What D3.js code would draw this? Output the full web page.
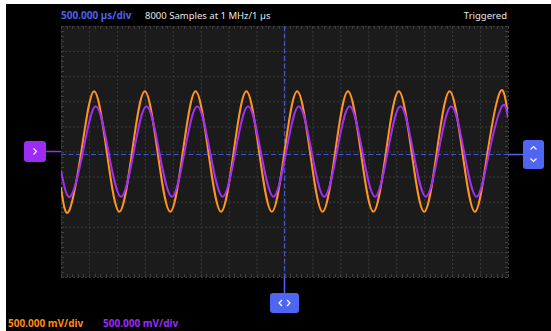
<!DOCTYPE html>
<html>
<head>
<meta charset="utf-8">
<script src="https://cdn.jsdelivr.net/npm/d3@7/dist/d3.min.js"></script>
<style>
  body { margin: 0; background: #fff; }
  svg { display: block; font-family: "Noto Sans", "DejaVu Sans", sans-serif; }
</style>
</head>
<body>
<svg width="551" height="331"></svg>
<script>
// time base: 16 divisions of 500 us, volts: 10 divisions of 500 mV
var timeDomain = [-4000, 4000];
var voltDomain = [-2.5, 2.5];
var timeTicks = d3.range(-4000, 4001, 500);
var voltTicks = d3.range(-2.5, 2.51, 0.5);

// channel 1 (orange), read at peaks / zero crossings, time in us
var ch1Time = [-4000, -3864, -3636, -3409, -3182, -2955, -2727, -2500, -2273, -2045, -1818, -1591,
    -1364, -1136, -909, -682, -455, -227, 0, 227, 455, 682, 909, 1136, 1364, 1591, 1818, 2045,
    2273, 2500, 2727, 2955, 3182, 3409, 3636, 3864, 4000];
var ch1Volts = [-0.71, -1.2, 0, 1.2, 0, -1.2, 0, 1.2, 0, -1.2, 0, 1.2,
    0, -1.2, 0, 1.2, 0, -1.2, 0, 1.2, 0, -1.2, 0, 1.2, 0, -1.2, 0, 1.2,
    0, -1.2, 0, 1.2, 0, -1.2, 0, 1.2, 0.71];

// channel 2 (purple), slightly lagging
var ch2Time = [-4000, -3834, -3606, -3379, -3152, -2925, -2697, -2470, -2243, -2015, -1788, -1561,
    -1334, -1106, -879, -652, -425, -197, 30, 257, 485, 712, 939, 1166, 1394, 1621, 1848, 2075,
    2303, 2530, 2757, 2985, 3212, 3439, 3666, 3894, 4000];
var ch2Volts = [-0.37, -0.9, 0, 0.9, 0, -0.9, 0, 0.9, 0, -0.9, 0, 0.9,
    0, -0.9, 0, 0.9, 0, -0.9, 0, 0.9, 0, -0.9, 0, 0.9, 0, -0.9, 0, 0.9,
    0, -0.9, 0, 0.9, 0, -0.9, 0, 0.9, 0.67];

var triggerLevel = -0.06;   // volts
var triggerTime = 0;        // us
var ch2Offset = 0;          // volts

var svg = d3.select("svg"),
    width = +svg.attr("width"),
    height = +svg.attr("height");

var plotL = 61, plotR = 508, plotT = 26, plotB = 277;

var x = d3.scaleLinear().domain(timeDomain).range([plotL, plotR]);
var y = d3.scaleLinear().domain(voltDomain).range([plotB, plotT]);

// black backdrop (white strip left/top like the screenshot)
svg.append("rect")
    .attr("x", 6).attr("y", 4)
    .attr("width", width - 6).attr("height", height - 4)
    .attr("fill", "#000");

svg.append("rect")
    .attr("x", plotL).attr("y", plotT)
    .attr("width", plotR - plotL).attr("height", plotB - plotT)
    .attr("fill", "#1b1b1c");

svg.append("clipPath").attr("id", "plotclip")
    .append("rect")
    .attr("x", plotL).attr("y", plotT)
    .attr("width", plotR - plotL).attr("height", plotB - plotT);

// grid
var gridX = svg.append("g")
    .attr("transform", "translate(0," + plotB + ")")
    .call(d3.axisBottom(x).tickValues(timeTicks).tickSize(-(plotB - plotT)).tickFormat(""));
var gridY = svg.append("g")
    .attr("transform", "translate(" + plotL + ",0)")
    .call(d3.axisLeft(y).tickValues(voltTicks).tickSize(-(plotR - plotL)).tickFormat(""));

[gridX, gridY].forEach(function (g) {
    g.select(".domain").remove();
    g.selectAll("line")
        .attr("stroke", "#3a3a3c")
        .attr("stroke-width", 1)
        .attr("stroke-dasharray", "2,2");
});

// minor ticks along the border
var minorT = d3.range(-4000, 4001, 100);
var minorV = d3.range(-2.5, 2.51, 0.1);
var ticks = svg.append("g").attr("stroke", "#3e3e40").attr("stroke-width", 1);
[plotT, plotB].forEach(function (yy, i) {
    ticks.selectAll(null).data(minorT).enter().append("line")
        .attr("x1", function (d) { return Math.round(x(d)) + 0.5; })
        .attr("x2", function (d) { return Math.round(x(d)) + 0.5; })
        .attr("y1", yy)
        .attr("y2", i === 0 ? yy + 3 : yy - 3);
});
[plotL, plotR].forEach(function (xx, i) {
    ticks.selectAll(null).data(minorV).enter().append("line")
        .attr("y1", function (d) { return Math.round(y(d)) + 0.5; })
        .attr("y2", function (d) { return Math.round(y(d)) + 0.5; })
        .attr("x1", xx)
        .attr("x2", i === 0 ? xx + 3 : xx - 3);
});

// trigger lines
var blue = "#4f66f2";
svg.append("line")
    .attr("x1", plotL).attr("x2", plotR)
    .attr("y1", y(triggerLevel)).attr("y2", y(triggerLevel))
    .attr("stroke", blue).attr("stroke-opacity", 0.8)
    .attr("stroke-width", 1.2).attr("stroke-dasharray", "5,2.5");
svg.append("line")
    .attr("x1", x(triggerTime)).attr("x2", x(triggerTime))
    .attr("y1", plotT).attr("y2", plotB)
    .attr("stroke", blue).attr("stroke-opacity", 0.8)
    .attr("stroke-width", 1.2).attr("stroke-dasharray", "5,2.5");

// traces
var line = d3.line()
    .x(function (d) { return x(d[0]); })
    .y(function (d) { return y(d[1]); })
    .curve(d3.curveNatural);

var traces = svg.append("g").attr("clip-path", "url(#plotclip)");
traces.append("path")
    .attr("d", line(d3.zip(ch1Time, ch1Volts)))
    .attr("fill", "none").attr("stroke", "#ff9422").attr("stroke-width", 2);
traces.append("path")
    .attr("d", line(d3.zip(ch2Time, ch2Volts)))
    .attr("fill", "none").attr("stroke", "#a12ef5").attr("stroke-width", 2);

// markers
var purple = "#9a2cf5";
var py = y(ch2Offset);
svg.append("line")
    .attr("x1", 46).attr("x2", plotL)
    .attr("y1", py).attr("y2", py)
    .attr("stroke", purple).attr("stroke-width", 1.5);
svg.append("rect")
    .attr("x", 24).attr("y", py - 10.5)
    .attr("width", 22).attr("height", 21).attr("rx", 3)
    .attr("fill", purple);
svg.append("path")
    .attr("d", "M33.5," + (py - 3) + "l3,3l-3,3")
    .attr("fill", "none").attr("stroke", "#fff").attr("stroke-width", 1.2);

var ty = y(triggerLevel);
svg.append("line")
    .attr("x1", plotR).attr("x2", 523)
    .attr("y1", ty).attr("y2", ty)
    .attr("stroke", blue).attr("stroke-width", 1.5);
svg.append("rect")
    .attr("x", 523).attr("y", ty - 14.5)
    .attr("width", 21).attr("height", 29).attr("rx", 3)
    .attr("fill", blue);
svg.append("path")
    .attr("d", "M530.5," + (ty - 5) + "l3,-3l3,3M530.5," + (ty + 4) + "l3,3l3,-3")
    .attr("fill", "none").attr("stroke", "#fff").attr("stroke-width", 1.2);

var tx = x(triggerTime);
svg.append("line")
    .attr("x1", tx).attr("x2", tx)
    .attr("y1", plotB).attr("y2", 293)
    .attr("stroke", blue).attr("stroke-width", 1.5);
svg.append("rect")
    .attr("x", tx - 14.5).attr("y", 293)
    .attr("width", 29).attr("height", 20).attr("rx", 3)
    .attr("fill", blue);
svg.append("path")
    .attr("d", "M" + (tx - 2.5) + ",300l-3,3l3,3M" + (tx + 2.5) + ",300l3,3l-3,3")
    .attr("fill", "none").attr("stroke", "#fff").attr("stroke-width", 1.2);

// labels
svg.append("text")
    .attr("x", plotL).attr("y", 19)
    .attr("fill", "#4a62f0").attr("font-size", 10).attr("font-weight", "bold")
    .text("500.000 \u00b5s/div");
svg.append("text")
    .attr("x", 145).attr("y", 19)
    .attr("fill", "#e8e8e8").attr("font-size", 9.5)
    .text("8000 Samples at 1 MHz/1 \u00b5s");
svg.append("text")
    .attr("x", plotR - 1).attr("y", 19)
    .attr("text-anchor", "end")
    .attr("fill", "#e8e8e8").attr("font-size", 9.5)
    .text("Triggered");
svg.append("text")
    .attr("x", 8).attr("y", 327)
    .attr("fill", "#ff8a14").attr("font-size", 10).attr("font-weight", "bold")
    .text("500.000 mV/div");
svg.append("text")
    .attr("x", 103).attr("y", 327)
    .attr("fill", "#9a2cf5").attr("font-size", 10).attr("font-weight", "bold")
    .text("500.000 mV/div");
</script>
</body>
</html>
